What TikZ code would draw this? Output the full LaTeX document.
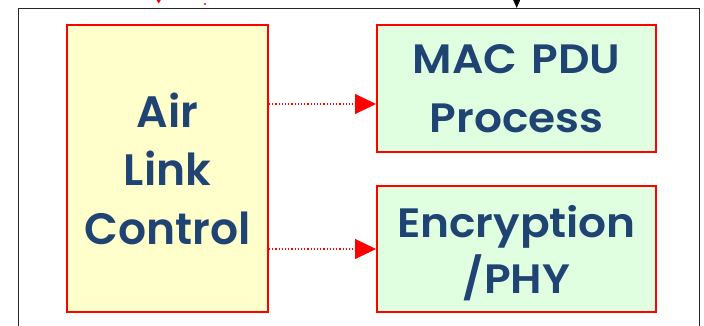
\documentclass[tikz,border=0pt]{standalone}
\usepackage{fontspec}
\setmainfont{Poppins}[BoldFont={Poppins SemiBold}]
\newfontfamily\widefont{Poppins}[BoldFont={Poppins SemiBold}, FakeStretch=1.07]
\usetikzlibrary{arrows.meta}
\definecolor{boxred}{HTML}{FF0000}
\definecolor{textblue}{HTML}{1F4373}
\definecolor{ctrlfill}{HTML}{FFFFCC}
\definecolor{procfill}{HTML}{E0FFE0}
\tikzset{
  block/.style={draw=boxred, line width=2pt, text=textblue, align=center,
    inner sep=0pt, font=\bfseries},
  flow/.style={draw=boxred, line width=1.2pt, dotted,
    -{Triangle[length=21pt, width=20pt]}},
}
\begin{document}
\begin{tikzpicture}[x=1pt, y=-1pt]
  \useasboundingbox (0,0) rectangle (704,325);
  % outer frame, open past the lower edge
  \draw[black!85, line width=1.4pt] (18.5,340) -- (18.5,8.5) -- (699.5,8.5) -- (699.5,340);
  % ends of incoming links from above
  \coordinate (inA) at (158.7,-12);
  \coordinate (inAend) at (158.7,3.5);
  \draw[boxred, line width=0.8pt, -{Triangle[length=4pt, width=4.5pt]}] (inA) -- (inAend);
  \fill[boxred] (205,4) circle (1.1pt);
  \coordinate (inB) at (516.7,-20);
  \coordinate (inBend) at (516.7,8);
  \draw[black, line width=1pt, -{Triangle[length=14pt, width=12pt]}] (inB) -- (inBend);
  % blocks
  \node[block, fill=ctrlfill, minimum width=201pt, minimum height=287pt,
        font=\bfseries\fontsize{44}{58.5}\selectfont] (alc) at (167.5,168.5)
        {Air\\Link\\Control};
  \node[block, fill=procfill, minimum width=279pt, minimum height=127pt,
        font=\widefont\bfseries\fontsize{41}{59}\selectfont] (mac) at (516.5,88.5)
        {MAC\hspace{0.1em} PDU\\Process};
  \node[block, fill=procfill, minimum width=279pt, minimum height=126pt,
        font=\widefont\bfseries\fontsize{41}{56}\selectfont, text depth=0pt] (enc) at (516.5,249)
        {Encryption\\/PHY};
  % control links
  \draw[flow] ([yshift=64.5pt]alc.east) -- ([yshift=-15.5pt]mac.west);
  \draw[flow] ([yshift=-80.5pt]alc.east) -- (enc.west);
\end{tikzpicture}
\end{document}
